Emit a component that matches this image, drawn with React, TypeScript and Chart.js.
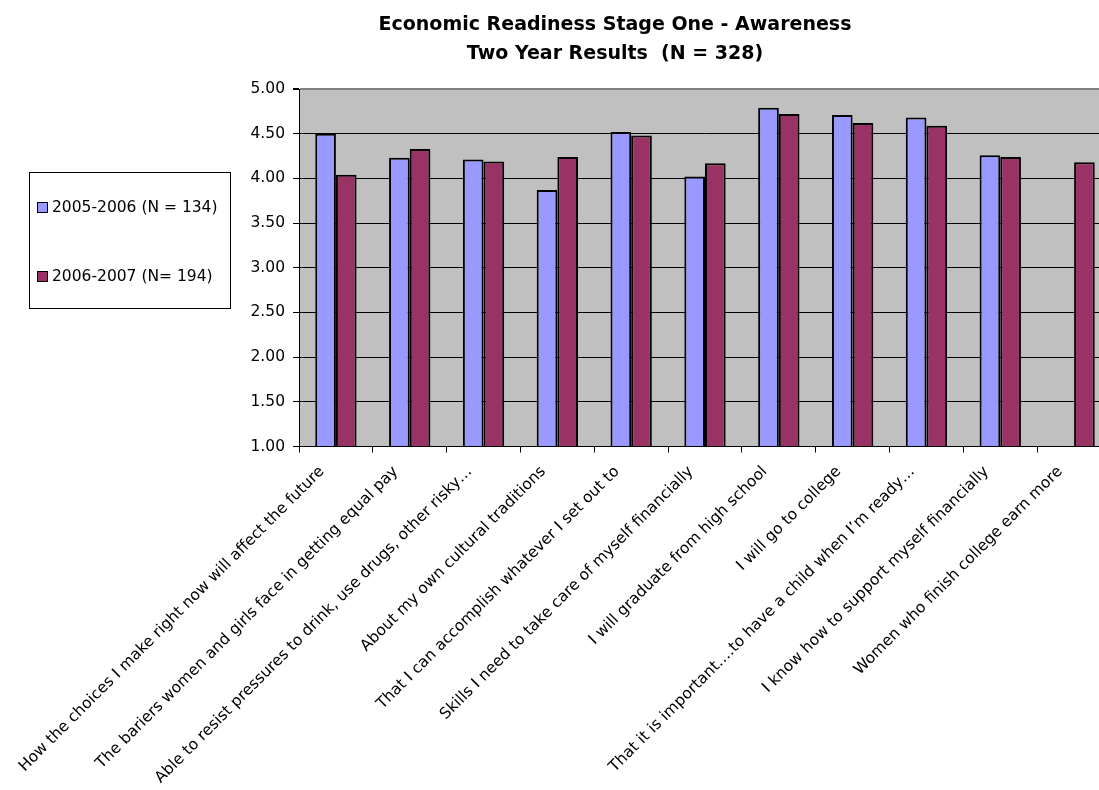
import { useEffect, useRef } from "react";
import { Chart, registerables } from "chart.js";

Chart.register(...registerables);

// Survey statements (x categories)
const categories = [
  "How the choices I make right now will affect the future",
  "The bariers women and girls face in getting equal pay",
  "Able to resist pressures to drink, use drugs, other risky…",
  "About my own cultural traditions",
  "That I can accomplish whatever I set out to",
  "Skills I need to take care of myself financially",
  "I will graduate from high school",
  "I will go to college",
  "That it is important….to have a child when I’m ready…",
  "I know how to support myself financially",
  "Women who finish college earn more",
];

// Mean scores per year
const scores2005 = [4.5, 4.23, 4.21, 3.87, 4.52, 4.02, 4.79, 4.71, 4.68, 4.26, null];
const scores2006 = [4.04, 4.33, 4.19, 4.24, 4.48, 4.17, 4.72, 4.62, 4.59, 4.24, 4.18];

const seriesNames = ["2005-2006 (N = 134)", "2006-2007 (N= 194)"];
const seriesColors = ["#9999FF", "#993366"];

const titleLines = ["Economic Readiness Stage One - Awareness", "Two Year Results  (N = 328)"];

// Value axis range and step
const yMin = 1;
const yMax = 5;
const yStep = 0.5;

const FONT = "'DejaVu Sans', 'Liberation Sans', Arial, sans-serif";
const CANVAS_W = 1130;
const CANVAS_H = 790;

// Grey plot-area fill behind the bars
const plotBackground = {
  id: "plotBackground",
  beforeDraw(chart: any) {
    const { ctx, chartArea: a } = chart;
    ctx.save();
    ctx.fillStyle = "#C0C0C0";
    ctx.fillRect(a.left, a.top, a.right - a.left, a.bottom - a.top);
    ctx.restore();
  },
};

// Two-line bold heading
const headingBlock = {
  id: "headingBlock",
  afterDraw(chart: any) {
    const { ctx } = chart;
    ctx.save();
    ctx.fillStyle = "#000";
    ctx.font = `bold 19px ${FONT}`;
    ctx.textAlign = "center";
    ctx.textBaseline = "middle";
    titleLines.forEach((line, i) => ctx.fillText(line, 615, 25 + i * 29));
    ctx.restore();
  },
};

// Boxed series key on the left side
const seriesKey = {
  id: "seriesKey",
  afterDraw(chart: any) {
    const { ctx } = chart;
    const box = { x: 29.5, y: 172.5, w: 201, h: 136 };
    ctx.save();
    ctx.fillStyle = "#fff";
    ctx.fillRect(box.x, box.y, box.w, box.h);
    ctx.strokeStyle = "#000";
    ctx.lineWidth = 1;
    ctx.strokeRect(box.x, box.y, box.w, box.h);
    ctx.font = `15.5px ${FONT}`;
    ctx.textBaseline = "middle";
    ctx.textAlign = "left";
    chart.data.datasets.forEach((ds: any, i: number) => {
      const cy = 208 + i * 69;
      ctx.fillStyle = ds.backgroundColor;
      ctx.fillRect(37.5, cy - 5.5, 10, 10);
      ctx.strokeStyle = "#000";
      ctx.strokeRect(37.5, cy - 5.5, 10, 10);
      ctx.fillStyle = "#000";
      ctx.fillText(ds.label, 52, cy);
    });
    ctx.restore();
  },
};

export default function App() {
  const canvasRef = useRef<HTMLCanvasElement | null>(null);

  useEffect(() => {
    if (!canvasRef.current) return;
    const chart = new Chart(canvasRef.current, {
      type: "bar",
      data: {
        labels: categories,
        datasets: [
          {
            label: seriesNames[0],
            data: scores2005,
            backgroundColor: seriesColors[0],
            borderColor: "#000",
            borderWidth: 2,
            base: yMin,
            categoryPercentage: 0.56,
            barPercentage: 1,
          },
          {
            label: seriesNames[1],
            data: scores2006,
            backgroundColor: seriesColors[1],
            borderColor: "#000",
            borderWidth: 2,
            base: yMin,
            categoryPercentage: 0.56,
            barPercentage: 1,
          },
        ],
      },
      options: {
        animation: false,
        responsive: false,
        devicePixelRatio: 1,
        layout: { padding: { left: 239, top: 89, right: 19, bottom: 0 } },
        plugins: {
          legend: { display: false },
          title: { display: false },
          tooltip: { enabled: false },
        },
        scales: {
          x: {
            grid: {
              display: true,
              drawOnChartArea: false,
              drawTicks: true,
              tickLength: 6,
              color: "#000",
            },
            border: { display: true, color: "#000", width: 1 },
            ticks: {
              autoSkip: false,
              minRotation: 45,
              maxRotation: 45,
              labelOffset: -14,
              padding: 10,
              color: "#000",
              font: { family: FONT, size: 15.5 },
            },
            afterFit(scale: any) {
              scale.height = CANVAS_H - 446.5;
              scale.paddingLeft = 0;
              scale.paddingRight = 0;
              scale.paddingTop = 0;
              scale.paddingBottom = 0;
            },
          },
          y: {
            min: yMin,
            max: yMax,
            ticks: {
              stepSize: yStep,
              padding: 8,
              color: "#000",
              font: { family: FONT, size: 15.5 },
              callback: (v: any) => Number(v).toFixed(2),
            },
            grid: {
              color: (c: any) => (c.tick && c.tick.value === yMax ? "#808080" : "#000"),
              lineWidth: (c: any) => (c.tick && c.tick.value === yMax ? 2 : 1),
              tickColor: "#000",
              tickLength: 6,
            },
            border: { display: true, color: "#000", width: 1 },
            afterFit(scale: any) {
              scale.width = 60;
            },
          },
        },
      },
      plugins: [plotBackground, headingBlock, seriesKey],
    } as any);
    return () => chart.destroy();
  }, []);

  return (
    <div
      style={{
        position: "fixed",
        left: 0,
        top: 0,
        width: 1099,
        height: 790,
        overflow: "hidden",
        background: "#fff",
      }}
    >
      <canvas
        ref={canvasRef}
        width={CANVAS_W}
        height={CANVAS_H}
        style={{ width: `${CANVAS_W}px`, height: `${CANVAS_H}px`, display: "block" }}
      />
    </div>
  );
}
